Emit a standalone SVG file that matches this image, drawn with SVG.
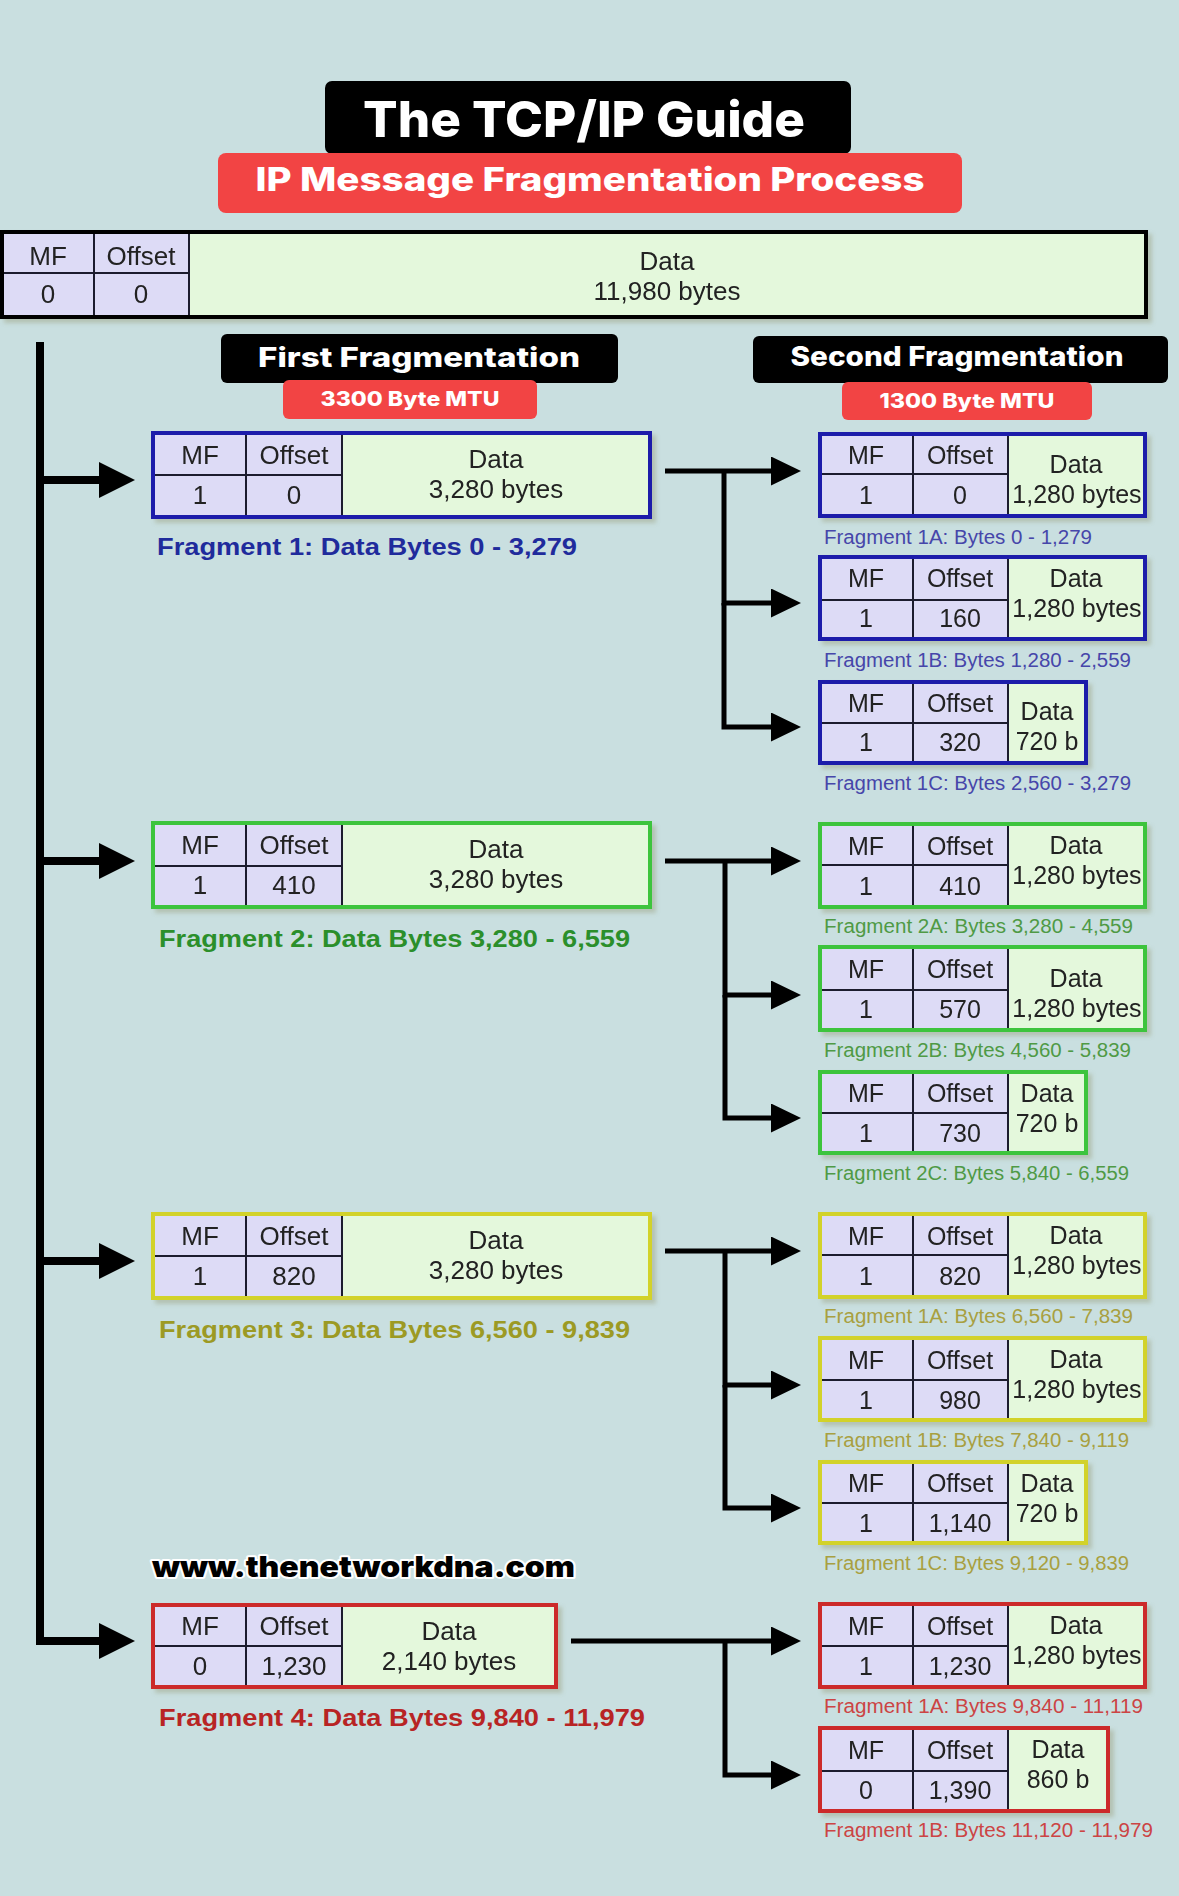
<svg xmlns="http://www.w3.org/2000/svg" width="1179" height="1896" viewBox="0 0 1179 1896">
<defs>
<style>
.hdr{fill:#dddbf6}
.dat{fill:#e4f8dc}
.grid{stroke:#1e1e2e;stroke-width:2;fill:none}
.t{font-family:"Liberation Sans",Arial,sans-serif;font-size:25px;fill:#222;text-anchor:middle}
.L .t{font-size:26px}
.lbl{font-family:"Liberation Sans",Arial,sans-serif;font-size:20px}
.lblb{font-family:"Liberation Sans",Arial,sans-serif;font-size:23px;font-weight:bold}
.head{font-family:Inter,"Open Sans","DejaVu Sans",sans-serif;font-weight:800;fill:#fff;text-anchor:middle}
.b-blue{stroke:#1c1caa;stroke-width:4;fill:none}
.b-green{stroke:#3cc43c;stroke-width:4;fill:none}
.b-yellow{stroke:#d2d22c;stroke-width:4;fill:none}
.b-red{stroke:#cc2a2a;stroke-width:4;fill:none}
.b-black{stroke:#000;stroke-width:4;fill:none}
.cb{stroke:#000;stroke-width:8;fill:none}
.cs{stroke:#000;stroke-width:5;fill:none}
</style>
<marker id="bigArrow" markerUnits="userSpaceOnUse" markerWidth="36" markerHeight="36" refX="0" refY="18" orient="auto"><path d="M0,0 L36,18 L0,36 z" fill="#000"/></marker>
<marker id="smallArrow" markerUnits="userSpaceOnUse" markerWidth="30" markerHeight="30" refX="0" refY="14.5" orient="auto"><path d="M0,0 L30,14.5 L0,29 z" fill="#000"/></marker>
<filter id="sh" x="-5%" y="-10%" width="115%" height="130%"><feDropShadow dx="4" dy="4" stdDeviation="2" flood-color="#8a8a60" flood-opacity="0.35"/></filter>
</defs>
<rect width="1179" height="1896" fill="#c9dfe0"/>

<g id="title">
<rect x="325" y="81" width="526" height="73" rx="7" fill="#000"/>
<text class="head" x="584" y="137" font-size="50" textLength="442" lengthAdjust="spacingAndGlyphs">The TCP/IP Guide</text>
</g>
<g id="subtitle">
<rect x="218" y="153" width="744" height="60" rx="8" fill="#f24444"/>
<text class="head" x="590" y="191" font-size="32" textLength="669" lengthAdjust="spacingAndGlyphs">IP Message Fragmentation Process</text>
</g>

<g id="original" class="L" filter="url(#sh)">
<rect x="2" y="232" width="187" height="85" class="hdr"/>
<rect x="189" y="232" width="957" height="85" class="dat"/>
<path class="grid" d="M94,232V317M189,232V317M2,273H189"/>
<rect x="2" y="232" width="1144" height="85" class="b-black"/>
<text class="t" x="48" y="265">MF</text><text class="t" x="48" y="303">0</text>
<text class="t" x="141" y="265">Offset</text><text class="t" x="141" y="303">0</text>
<text class="t" x="667" y="270">Data</text><text class="t" x="667" y="300">11,980 bytes</text>
</g>

<g id="first-fragmentation">
<rect x="221" y="334" width="397" height="49" rx="6" fill="#000"/>
<text class="head" x="419" y="367" font-size="27" textLength="322" lengthAdjust="spacingAndGlyphs">First Fragmentation</text>
<rect x="283" y="380" width="254" height="39" rx="6" fill="#f24444"/>
<text class="head" x="410" y="406" font-size="20" textLength="179" lengthAdjust="spacingAndGlyphs">3300 Byte MTU</text>
</g>
<g id="second-fragmentation">
<rect x="753" y="336" width="415" height="47" rx="6" fill="#000"/>
<text class="head" x="957" y="366" font-size="27" textLength="333" lengthAdjust="spacingAndGlyphs">Second Fragmentation</text>
<rect x="842" y="382" width="250" height="38" rx="6" fill="#f24444"/>
<text class="head" x="967" y="408" font-size="20" textLength="175" lengthAdjust="spacingAndGlyphs">1300 Byte MTU</text>
</g>

<g id="connectors">
<path class="cb" d="M40,342V1641H99" stroke-linejoin="miter" marker-end="url(#bigArrow)"/>
<path class="cb" d="M40,480H99" marker-end="url(#bigArrow)"/>
<path class="cb" d="M40,861H99" marker-end="url(#bigArrow)"/>
<path class="cb" d="M40,1261H99" marker-end="url(#bigArrow)"/>

<path class="cs" d="M665,471H771" marker-end="url(#smallArrow)"/>
<path class="cs" d="M724,471V603H771" marker-end="url(#smallArrow)"/>
<path class="cs" d="M724,603V727H771" marker-end="url(#smallArrow)"/>

<path class="cs" d="M665,861H771" marker-end="url(#smallArrow)"/>
<path class="cs" d="M725,861V995H771" marker-end="url(#smallArrow)"/>
<path class="cs" d="M725,995V1118H771" marker-end="url(#smallArrow)"/>

<path class="cs" d="M665,1251H771" marker-end="url(#smallArrow)"/>
<path class="cs" d="M725,1251V1385H771" marker-end="url(#smallArrow)"/>
<path class="cs" d="M725,1385V1508H771" marker-end="url(#smallArrow)"/>

<path class="cs" d="M571,1641H771" marker-end="url(#smallArrow)"/>
<path class="cs" d="M725,1641V1775H771" marker-end="url(#smallArrow)"/>
</g>

<!-- First-level fragments -->
<g id="frag1" class="L" filter="url(#sh)">
<rect x="153" y="433" width="189" height="84" class="hdr"/><rect x="342" y="433" width="308" height="84" class="dat"/>
<path class="grid" d="M246,433V517M342,433V517M153,475H342"/>
<rect x="153" y="433" width="497" height="84" class="b-blue"/>
<text class="t" x="200" y="464">MF</text><text class="t" x="200" y="504">1</text>
<text class="t" x="294" y="464">Offset</text><text class="t" x="294" y="504">0</text>
<text class="t" x="496" y="468">Data</text><text class="t" x="496" y="498">3,280 bytes</text>
</g>
<text id="frag1-label" class="lblb" x="157" y="555" fill="#1f2b9c" textLength="420" lengthAdjust="spacingAndGlyphs">Fragment 1: Data Bytes 0 - 3,279</text>

<g id="frag2" class="L" filter="url(#sh)">
<rect x="153" y="823" width="189" height="84" class="hdr"/><rect x="342" y="823" width="308" height="84" class="dat"/>
<path class="grid" d="M246,823V907M342,823V907M153,866H342"/>
<rect x="153" y="823" width="497" height="84" class="b-green"/>
<text class="t" x="200" y="854">MF</text><text class="t" x="200" y="894">1</text>
<text class="t" x="294" y="854">Offset</text><text class="t" x="294" y="894">410</text>
<text class="t" x="496" y="858">Data</text><text class="t" x="496" y="888">3,280 bytes</text>
</g>
<text id="frag2-label" class="lblb" x="159" y="947" fill="#2b8f2b" textLength="471" lengthAdjust="spacingAndGlyphs">Fragment 2: Data Bytes 3,280 - 6,559</text>

<g id="frag3" class="L" filter="url(#sh)">
<rect x="153" y="1214" width="189" height="84" class="hdr"/><rect x="342" y="1214" width="308" height="84" class="dat"/>
<path class="grid" d="M246,1214V1298M342,1214V1298M153,1256H342"/>
<rect x="153" y="1214" width="497" height="84" class="b-yellow"/>
<text class="t" x="200" y="1245">MF</text><text class="t" x="200" y="1285">1</text>
<text class="t" x="294" y="1245">Offset</text><text class="t" x="294" y="1285">820</text>
<text class="t" x="496" y="1249">Data</text><text class="t" x="496" y="1279">3,280 bytes</text>
</g>
<text id="frag3-label" class="lblb" x="159" y="1338" fill="#9c9a24" textLength="471" lengthAdjust="spacingAndGlyphs">Fragment 3: Data Bytes 6,560 - 9,839</text>

<text id="website" x="152" y="1577" font-family="Inter,'DejaVu Sans',sans-serif" font-weight="900" font-size="29" fill="#000" stroke="#fff" stroke-width="4" paint-order="stroke" stroke-linejoin="round" textLength="423" lengthAdjust="spacingAndGlyphs">www.thenetworkdna.com</text>

<g id="frag4" class="L" filter="url(#sh)">
<rect x="153" y="1605" width="189" height="82" class="hdr"/><rect x="342" y="1605" width="214" height="82" class="dat"/>
<path class="grid" d="M246,1605V1687M342,1605V1687M153,1646H342"/>
<rect x="153" y="1605" width="403" height="82" class="b-red"/>
<text class="t" x="200" y="1635">MF</text><text class="t" x="200" y="1675">0</text>
<text class="t" x="294" y="1635">Offset</text><text class="t" x="294" y="1675">1,230</text>
<text class="t" x="449" y="1640">Data</text><text class="t" x="449" y="1670">2,140 bytes</text>
</g>
<text id="frag4-label" class="lblb" x="159" y="1726" fill="#b82424" textLength="486" lengthAdjust="spacingAndGlyphs">Fragment 4: Data Bytes 9,840 - 11,979</text>

<!-- Second-level fragments: group 1 -->
<g id="frag1a" filter="url(#sh)">
<rect x="820" y="434" width="188" height="82" class="hdr"/><rect x="1008" y="434" width="137" height="82" class="dat"/>
<path class="grid" d="M913,434V516M1008,434V516M820,474H1008"/>
<rect x="820" y="434" width="325" height="82" class="b-blue"/>
<text class="t" x="866" y="464">MF</text><text class="t" x="866" y="504">1</text>
<text class="t" x="960" y="464">Offset</text><text class="t" x="960" y="504">0</text>
<text class="t" x="1076" y="473">Data</text><text class="t" x="1077" y="503">1,280 bytes</text>
</g>
<text id="frag1a-label" class="lbl" x="824" y="544" fill="#4646aa" textLength="268" lengthAdjust="spacingAndGlyphs">Fragment 1A: Bytes 0 - 1,279</text>

<g id="frag1b" filter="url(#sh)">
<rect x="820" y="557" width="188" height="82" class="hdr"/><rect x="1008" y="557" width="137" height="82" class="dat"/>
<path class="grid" d="M913,557V639M1008,557V639M820,600H1008"/>
<rect x="820" y="557" width="325" height="82" class="b-blue"/>
<text class="t" x="866" y="587">MF</text><text class="t" x="866" y="627">1</text>
<text class="t" x="960" y="587">Offset</text><text class="t" x="960" y="627">160</text>
<text class="t" x="1076" y="587">Data</text><text class="t" x="1077" y="617">1,280 bytes</text>
</g>
<text id="frag1b-label" class="lbl" x="824" y="667" fill="#4646aa" textLength="307" lengthAdjust="spacingAndGlyphs">Fragment 1B: Bytes 1,280 - 2,559</text>

<g id="frag1c" filter="url(#sh)">
<rect x="820" y="682" width="188" height="81" class="hdr"/><rect x="1008" y="682" width="78" height="81" class="dat"/>
<path class="grid" d="M913,682V763M1008,682V763M820,723H1008"/>
<rect x="820" y="682" width="266" height="81" class="b-blue"/>
<text class="t" x="866" y="712">MF</text><text class="t" x="866" y="751">1</text>
<text class="t" x="960" y="712">Offset</text><text class="t" x="960" y="751">320</text>
<text class="t" x="1047" y="720">Data</text><text class="t" x="1047" y="750">720 b</text>
</g>
<text id="frag1c-label" class="lbl" x="824" y="790" fill="#4646aa" textLength="307" lengthAdjust="spacingAndGlyphs">Fragment 1C: Bytes 2,560 - 3,279</text>

<!-- group 2 -->
<g id="frag2a" filter="url(#sh)">
<rect x="820" y="824" width="188" height="83" class="hdr"/><rect x="1008" y="824" width="137" height="83" class="dat"/>
<path class="grid" d="M913,824V907M1008,824V907M820,865H1008"/>
<rect x="820" y="824" width="325" height="83" class="b-green"/>
<text class="t" x="866" y="855">MF</text><text class="t" x="866" y="895">1</text>
<text class="t" x="960" y="855">Offset</text><text class="t" x="960" y="895">410</text>
<text class="t" x="1076" y="854">Data</text><text class="t" x="1077" y="884">1,280 bytes</text>
</g>
<text id="frag2a-label" class="lbl" x="824" y="933" fill="#4f9a45" textLength="309" lengthAdjust="spacingAndGlyphs">Fragment 2A: Bytes 3,280 - 4,559</text>

<g id="frag2b" filter="url(#sh)">
<rect x="820" y="947" width="188" height="83" class="hdr"/><rect x="1008" y="947" width="137" height="83" class="dat"/>
<path class="grid" d="M913,947V1030M1008,947V1030M820,990H1008"/>
<rect x="820" y="947" width="325" height="83" class="b-green"/>
<text class="t" x="866" y="978">MF</text><text class="t" x="866" y="1018">1</text>
<text class="t" x="960" y="978">Offset</text><text class="t" x="960" y="1018">570</text>
<text class="t" x="1076" y="987">Data</text><text class="t" x="1077" y="1017">1,280 bytes</text>
</g>
<text id="frag2b-label" class="lbl" x="824" y="1057" fill="#4f9a45" textLength="307" lengthAdjust="spacingAndGlyphs">Fragment 2B: Bytes 4,560 - 5,839</text>

<g id="frag2c" filter="url(#sh)">
<rect x="820" y="1072" width="188" height="81" class="hdr"/><rect x="1008" y="1072" width="78" height="81" class="dat"/>
<path class="grid" d="M913,1072V1153M1008,1072V1153M820,1113H1008"/>
<rect x="820" y="1072" width="266" height="81" class="b-green"/>
<text class="t" x="866" y="1102">MF</text><text class="t" x="866" y="1142">1</text>
<text class="t" x="960" y="1102">Offset</text><text class="t" x="960" y="1142">730</text>
<text class="t" x="1047" y="1102">Data</text><text class="t" x="1047" y="1132">720 b</text>
</g>
<text id="frag2c-label" class="lbl" x="824" y="1180" fill="#4f9a45" textLength="305" lengthAdjust="spacingAndGlyphs">Fragment 2C: Bytes 5,840 - 6,559</text>

<!-- group 3 -->
<g id="frag3a" filter="url(#sh)">
<rect x="820" y="1214" width="188" height="83" class="hdr"/><rect x="1008" y="1214" width="137" height="83" class="dat"/>
<path class="grid" d="M913,1214V1297M1008,1214V1297M820,1255H1008"/>
<rect x="820" y="1214" width="325" height="83" class="b-yellow"/>
<text class="t" x="866" y="1245">MF</text><text class="t" x="866" y="1285">1</text>
<text class="t" x="960" y="1245">Offset</text><text class="t" x="960" y="1285">820</text>
<text class="t" x="1076" y="1244">Data</text><text class="t" x="1077" y="1274">1,280 bytes</text>
</g>
<text id="frag3a-label" class="lbl" x="824" y="1323" fill="#a8a040" textLength="309" lengthAdjust="spacingAndGlyphs">Fragment 1A: Bytes 6,560 - 7,839</text>

<g id="frag3b" filter="url(#sh)">
<rect x="820" y="1338" width="188" height="82" class="hdr"/><rect x="1008" y="1338" width="137" height="82" class="dat"/>
<path class="grid" d="M913,1338V1420M1008,1338V1420M820,1380H1008"/>
<rect x="820" y="1338" width="325" height="82" class="b-yellow"/>
<text class="t" x="866" y="1369">MF</text><text class="t" x="866" y="1409">1</text>
<text class="t" x="960" y="1369">Offset</text><text class="t" x="960" y="1409">980</text>
<text class="t" x="1076" y="1368">Data</text><text class="t" x="1077" y="1398">1,280 bytes</text>
</g>
<text id="frag3b-label" class="lbl" x="824" y="1447" fill="#a8a040" textLength="305" lengthAdjust="spacingAndGlyphs">Fragment 1B: Bytes 7,840 - 9,119</text>

<g id="frag3c" filter="url(#sh)">
<rect x="820" y="1462" width="188" height="81" class="hdr"/><rect x="1008" y="1462" width="78" height="81" class="dat"/>
<path class="grid" d="M913,1462V1543M1008,1462V1543M820,1503H1008"/>
<rect x="820" y="1462" width="266" height="81" class="b-yellow"/>
<text class="t" x="866" y="1492">MF</text><text class="t" x="866" y="1532">1</text>
<text class="t" x="960" y="1492">Offset</text><text class="t" x="960" y="1532">1,140</text>
<text class="t" x="1047" y="1492">Data</text><text class="t" x="1047" y="1522">720 b</text>
</g>
<text id="frag3c-label" class="lbl" x="824" y="1570" fill="#a8a040" textLength="305" lengthAdjust="spacingAndGlyphs">Fragment 1C: Bytes 9,120 - 9,839</text>

<!-- group 4 -->
<g id="frag4a" filter="url(#sh)">
<rect x="820" y="1604" width="188" height="83" class="hdr"/><rect x="1008" y="1604" width="137" height="83" class="dat"/>
<path class="grid" d="M913,1604V1687M1008,1604V1687M820,1646H1008"/>
<rect x="820" y="1604" width="325" height="83" class="b-red"/>
<text class="t" x="866" y="1635">MF</text><text class="t" x="866" y="1675">1</text>
<text class="t" x="960" y="1635">Offset</text><text class="t" x="960" y="1675">1,230</text>
<text class="t" x="1076" y="1634">Data</text><text class="t" x="1077" y="1664">1,280 bytes</text>
</g>
<text id="frag4a-label" class="lbl" x="824" y="1713" fill="#cc4444" textLength="319" lengthAdjust="spacingAndGlyphs">Fragment 1A: Bytes 9,840 - 11,119</text>

<g id="frag4b" filter="url(#sh)">
<rect x="820" y="1728" width="188" height="83" class="hdr"/><rect x="1008" y="1728" width="100" height="83" class="dat"/>
<path class="grid" d="M913,1728V1811M1008,1728V1811M820,1771H1008"/>
<rect x="820" y="1728" width="288" height="83" class="b-red"/>
<text class="t" x="866" y="1759">MF</text><text class="t" x="866" y="1799">0</text>
<text class="t" x="960" y="1759">Offset</text><text class="t" x="960" y="1799">1,390</text>
<text class="t" x="1058" y="1758">Data</text><text class="t" x="1058" y="1788">860 b</text>
</g>
<text id="frag4b-label" class="lbl" x="824" y="1837" fill="#cc4444" textLength="329" lengthAdjust="spacingAndGlyphs">Fragment 1B: Bytes 11,120 - 11,979</text>
</svg>
